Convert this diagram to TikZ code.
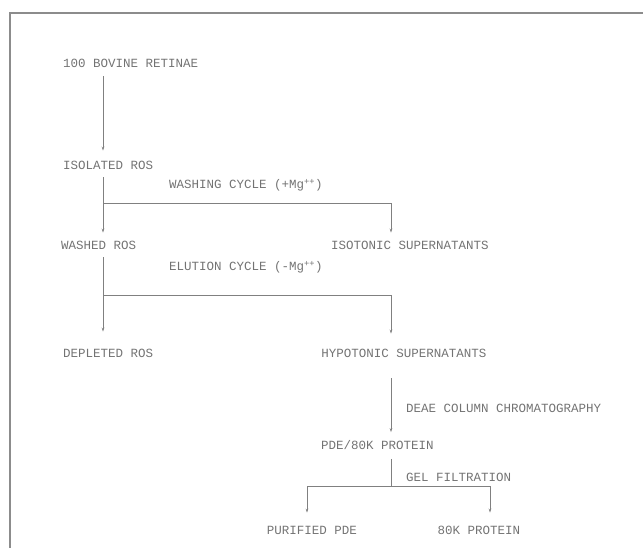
\documentclass[tikz,border=0pt]{standalone}
\usepackage{fontspec}
\setmonofont{Liberation Mono}
\usetikzlibrary{arrows.meta}

\begin{document}
\begin{tikzpicture}[x=1pt,y=-1pt,
  item/.style={font=\ttfamily\fontsize{12.5}{14}\selectfont, text=black!55, inner sep=1pt},
  flow/.style={draw=black!50, line width=0.8pt, -{Stealth[length=4pt,width=2.6pt]}},
  plain/.style={draw=black!50, line width=0.8pt}]

\useasboundingbox (0,0) rectangle (643,552);
\draw [black!45, line width=1.4pt] (643,13) -- (10,13) -- (10,548);

\coordinate (left) at (103,0);
\coordinate (mid) at (391,0);

\node [item, anchor=west] (retinae) at (62,63) {100 BOVINE RETINAE};
\node [item, anchor=west] (isolated) at (62,165) {ISOLATED ROS};
\node [item, anchor=west] (washed) at (60,245) {WASHED ROS};
\node [item, anchor=west] (depleted) at (62,353) {DEPLETED ROS};
\node [item] (isotonic) at (410,245) {ISOTONIC SUPERNATANTS};
\node [item] (hypotonic) at (404,353) {HYPOTONIC SUPERNATANTS};
\node [item, anchor=west] (pdeprot) at (320,445) {PDE/80K PROTEIN};
\node [item] (purified) at (312,530) {PURIFIED PDE};
\node [item] (protein) at (479,530) {80K PROTEIN};

\node [item, anchor=west] (washing) at (168,185) {WASHING CYCLE (+Mg\textsuperscript{++})};
\node [item, anchor=west] (elution) at (168,267) {ELUTION CYCLE (-Mg\textsuperscript{++})};
\node [item, anchor=west] (deae) at (405,408) {DEAE COLUMN CHROMATOGRAPHY};
\node [item, anchor=west] (gel) at (405,477) {GEL FILTRATION};

\coordinate (washjoin) at (103,203);
\coordinate (elujoin) at (103,295);
\coordinate (split) at (391,486);

\draw [flow, shorten <=8pt, shorten >=9pt] (retinae.south -| left) -- (isolated.north -| left);
\draw [flow, shorten <=7pt, shorten >=7pt] (isolated.south -| left) -- (washed.north -| left);
\draw [flow, shorten <=7pt, shorten >=16pt] (washed.south -| left) -- (depleted.north -| left);
\draw [flow, shorten >=7pt] (washjoin) -| (isotonic.north -| mid);
\draw [flow, shorten >=14pt] (elujoin) -| (hypotonic.north -| mid);
\draw [flow, shorten <=20pt, shorten >=7pt] (hypotonic.south -| mid) -- (pdeprot.north -| mid);
\draw [plain, shorten <=8pt] (pdeprot.south -| mid) -- (split);
\draw [flow, shorten >=12pt] (split) -| (purified.north -| 307,0);
\draw [flow, shorten >=12pt] (split) -| (protein.north -| 490,0);

\end{tikzpicture}
\end{document}
